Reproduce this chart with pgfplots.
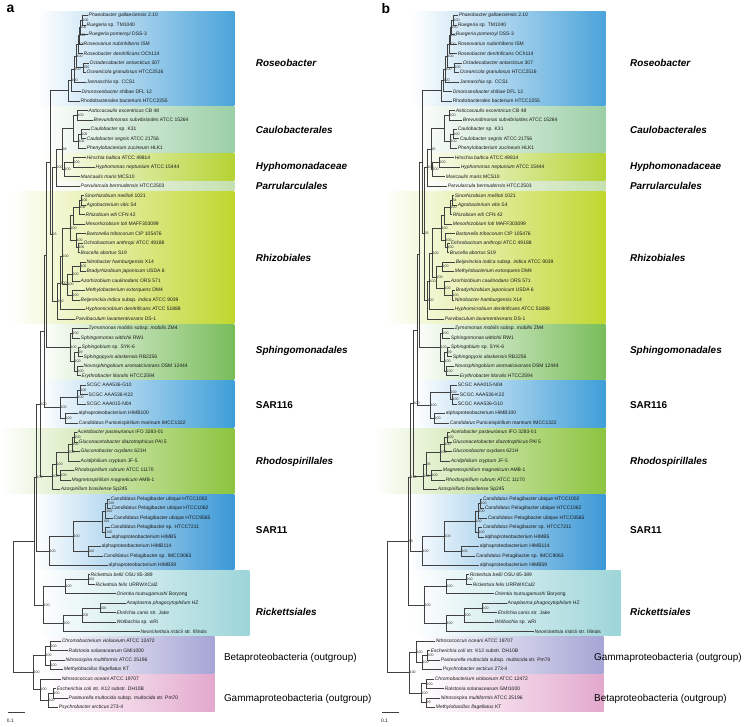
\documentclass[border=0pt]{standalone}
\usepackage{pgfplots}
\pgfplotsset{compat=1.18}
\usepackage{fontspec}
\setmainfont{Liberation Sans}
\definecolor{cRose}{HTML}{4BA4DA}
\definecolor{cCaul}{HTML}{9BCFA6}
\definecolor{cHypho}{HTML}{B5D334}
\definecolor{cParv}{HTML}{C5E0B0}
\definecolor{cRhiz}{HTML}{C0D72E}
\definecolor{cSph}{HTML}{78BD5A}
\definecolor{cSAR}{HTML}{3E9ED8}
\definecolor{cRhodo}{HTML}{8CC43F}
\definecolor{cSAReleven}{HTML}{3B98D6}
\definecolor{cRick}{HTML}{9DD5D9}
\definecolor{cPurp}{HTML}{A6A5D5}
\definecolor{cPink}{HTML}{E3A9CD}
\pgfplotsset{
 tree/.style={draw=black!75, line width=0.55pt, mark=none},
 tips/.style={draw=none, mark=none, nodes near coords, point meta=explicit symbolic,
   nodes near coords style={anchor=west, font=\fontsize{5}{6}\selectfont, inner sep=0.7pt, text=black!90}},
 boot/.style={draw=none, mark=none, nodes near coords, point meta=explicit symbolic,
   nodes near coords style={anchor=west, font=\fontsize{3.6}{4}\selectfont, inner sep=0.5pt, text=black!80}},
 band/.style={draw=none, mark=none, left color=white, right color=#1},
}
\newcommand{\clade}[1]{\fontsize{10}{12}\selectfont\bfseries\itshape #1}
\newcommand{\cladeu}[1]{\fontsize{10}{12}\selectfont\bfseries #1}
\begin{document}
\begin{tikzpicture}
\begin{axis}[at={(0,0)}, anchor=south west, width=745bp, height=728bp, scale only axis, hide axis,
  xmin=0, xmax=745, ymin=-1.5789, ymax=75.0526, y dir=reverse, clip=false, unbounded coords=jump]
\addplot[draw=none, mark=none] coordinates {(0,-1.5789)(745,75.0526)};
% ---------- bands panel a
\addplot[band=cRose] coordinates {(38,-0.45)(235,-0.45)(235,9.45)(38,9.45)};
\addplot[band=cCaul] coordinates {(40,9.55)(235,9.55)(235,14.45)(40,14.45)};
\addplot[band=cHypho] coordinates {(40,14.55)(235,14.55)(235,17.45)(40,17.45)};
\addplot[band=cParv] coordinates {(40,17.55)(235,17.55)(235,18.45)(40,18.45)};
\addplot[band=cRhiz] coordinates {(10,18.55)(235,18.55)(235,32.45)(10,32.45)};
\addplot[band=cSph] coordinates {(40,32.55)(235,32.55)(235,38.45)(40,38.45)};
\addplot[band=cSAR] coordinates {(40,38.55)(235,38.55)(235,43.45)(40,43.45)};
\addplot[band=cRhodo] coordinates {(0,43.55)(235,43.55)(235,50.45)(0,50.45)};
\addplot[band=cSAReleven] coordinates {(35,50.55)(235,50.55)(235,58.45)(35,58.45)};
\addplot[band=cRick] coordinates {(37,58.55)(250,58.55)(250,65.45)(37,65.45)};
\addplot[band=cPurp] coordinates {(45,65.55)(215,65.55)(215,69.45)(45,69.45)};
\addplot[band=cPink] coordinates {(45,69.55)(215,69.55)(215,73.45)(45,73.45)};
% ---------- bands panel b
\addplot[band=cRose] coordinates {(413,-0.45)(607,-0.45)(607,9.45)(413,9.45)};
\addplot[band=cCaul] coordinates {(415,9.55)(607,9.55)(607,14.45)(415,14.45)};
\addplot[band=cHypho] coordinates {(415,14.55)(607,14.55)(607,17.45)(415,17.45)};
\addplot[band=cParv] coordinates {(415,17.55)(607,17.55)(607,18.45)(415,18.45)};
\addplot[band=cRhiz] coordinates {(385,18.55)(607,18.55)(607,32.45)(385,32.45)};
\addplot[band=cSph] coordinates {(415,32.55)(607,32.55)(607,38.45)(415,38.45)};
\addplot[band=cSAR] coordinates {(415,38.55)(607,38.55)(607,43.45)(415,43.45)};
\addplot[band=cRhodo] coordinates {(375,43.55)(607,43.55)(607,50.45)(375,50.45)};
\addplot[band=cSAReleven] coordinates {(410,50.55)(607,50.55)(607,58.45)(410,58.45)};
\addplot[band=cRick] coordinates {(412,58.55)(622,58.55)(622,65.45)(412,65.45)};
\addplot[band=cPurp] coordinates {(420,65.55)(605,65.55)(605,69.45)(420,69.45)};
\addplot[band=cPink] coordinates {(420,69.55)(605,69.55)(605,73.45)(420,73.45)};
% ---------- tree panel a
\addplot[tree] coordinates {
(88,0)(82,0)(82,1)(86,1)(nan,nan)
(82,0.5)(80,0.5)(80,2)(88,2)(nan,nan)
(80,1.25)(79,1.25)(79,3)(83,3)(nan,nan)
(79,2.125)(78,2.125)(78,4)(83,4)(nan,nan)
(89,5)(83,5)(83,6)(86,6)(nan,nan)
(78,3.06)(76,3.06)(76,5.5)(83,5.5)(nan,nan)
(76,4.28)(74,4.28)(74,7)(86,7)(nan,nan)
(74,5.64)(71,5.64)(71,8)(81,8)(nan,nan)
(71,6.82)(68,6.82)(68,9)(80,9)(nan,nan)
(88,10)(77,10)(77,11)(93,11)(nan,nan)
(90,12)(81,12)(81,13)(86,13)(nan,nan)
(81,12.5)(78,12.5)(78,14)(86,14)(nan,nan)
(77,10.5)(73,10.5)(73,13.25)(78,13.25)(nan,nan)
(86,15)(73,15)(73,16)(95,16)(nan,nan)
(73,15.5)(64,15.5)(64,17)(80,17)(nan,nan)
(73,11.875)(62,11.875)(62,16.25)(64,16.25)(nan,nan)
(62,14.06)(56,14.06)(56,18)(80,18)(nan,nan)
(84,19)(81,19)(81,20)(86,20)(nan,nan)
(81,19.5)(79,19.5)(79,21)(85,21)(nan,nan)
(79,20.25)(73,20.25)(73,22)(85,22)(nan,nan)
(83,24)(78,24)(78,25)(80,25)(nan,nan)
(86,23)(76,23)(76,24.5)(78,24.5)(nan,nan)
(73,21.125)(70,21.125)(70,23.75)(76,23.75)(nan,nan)
(86,26)(80,26)(80,27)(86,27)(nan,nan)
(80,26.5)(72,26.5)(72,28)(80,28)(nan,nan)
(85,29)(72,29)(72,30)(80,30)(nan,nan)
(72,27.25)(67,27.25)(67,29.5)(72,29.5)(nan,nan)
(70,22.44)(62,22.44)(62,28.375)(67,28.375)(nan,nan)
(62,25.41)(60,25.41)(60,31)(85,31)(nan,nan)
(60,28.2)(57,28.2)(57,32)(75,32)(nan,nan)
(88,33)(72,33)(72,34)(80,34)(nan,nan)
(81,35)(78,35)(78,36)(83,36)(nan,nan)
(83,37)(77,37)(77,38)(81,38)(nan,nan)
(78,35.5)(74,35.5)(74,37.5)(77,37.5)(nan,nan)
(72,33.5)(70,33.5)(70,36.5)(74,36.5)(nan,nan)
(86,39)(80,39)(80,40)(88,40)(nan,nan)
(80,39.5)(77,39.5)(77,41)(86,41)(nan,nan)
(78,42)(65,42)(65,43)(78,43)(nan,nan)
(77,40.25)(60,40.25)(60,42.5)(65,42.5)(nan,nan)
(77,44)(74,44)(74,45)(78,45)(nan,nan)
(74,44.5)(72,44.5)(72,46)(80,46)(nan,nan)
(72,45.25)(68,45.25)(68,47)(80,47)(nan,nan)
(74,48)(60,48)(60,49)(71,49)(nan,nan)
(68,46.125)(56,46.125)(56,48.5)(60,48.5)(nan,nan)
(56,47.31)(52,47.31)(52,50)(60,50)(nan,nan)
(110,51)(108,51)(108,52)(111,52)(nan,nan)
(108,51.5)(106,51.5)(106,53)(113,53)(nan,nan)
(110,54)(106,54)(106,55)(111,55)(nan,nan)
(106,52.25)(103,52.25)(103,54.5)(106,54.5)(nan,nan)
(101,56)(88,56)(88,57)(103,57)(nan,nan)
(103,53.375)(73,53.375)(73,56.5)(88,56.5)(nan,nan)
(73,54.94)(49,54.94)(49,58)(108,58)(nan,nan)
(90,59)(88,59)(88,60)(95,60)(nan,nan)
(88,59.5)(65,59.5)(65,61)(116,61)(nan,nan)
(126,62)(100,62)(100,63)(116,63)(nan,nan)
(100,62.5)(82,62.5)(82,64)(116,64)(nan,nan)
(82,63.25)(63,63.25)(63,65)(140,65)(nan,nan)
(65,60.25)(43,60.25)(43,64.125)(63,64.125)(nan,nan)
(61,66)(50,66)(50,67)(68,67)(nan,nan)
(65,68)(50,68)(50,69)(63,69)(nan,nan)
(50,66.5)(45,66.5)(45,68.5)(50,68.5)(nan,nan)
(56,71)(53,71)(53,72)(68,72)(nan,nan)
(53,71.5)(48,71.5)(48,73)(58,73)(nan,nan)
(61,70)(40,70)(40,72.25)(48,72.25)(nan,nan)
(45,67.5)(33,67.5)(33,71.125)(40,71.125)(nan,nan)
(56,16.03)(52,16.03)(52,30.1)(57,30.1)(nan,nan)
(68,7.91)(50,7.91)(50,23.07)(52,23.07)(nan,nan)
(50,15.49)(46,15.49)(46,35)(70,35)(nan,nan)
(46,25.25)(44,25.25)(44,41.375)(60,41.375)(nan,nan)
(44,33.31)(40,33.31)(40,48.66)(52,48.66)(nan,nan)
(40,40.99)(36,40.99)(36,56.47)(49,56.47)(nan,nan)
(36,48.73)(34,48.73)(34,62.19)(43,62.19)(nan,nan)
(34,55.46)(13,55.46)(13,69.31)(33,69.31)(nan,nan)
(8,73.47)(25,73.47)
};
% ---------- tree panel b
\addplot[tree] coordinates {
(459,0)(454,0)(454,1)(458,1)(nan,nan)
(454,0.5)(452,0.5)(452,2)(456,2)(nan,nan)
(452,1.25)(451,1.25)(451,3)(458,3)(nan,nan)
(451,2.125)(450,2.125)(450,4)(458,4)(nan,nan)
(463,5)(455,5)(455,6)(460,6)(nan,nan)
(450,3.06)(448,3.06)(448,5.5)(455,5.5)(nan,nan)
(448,4.28)(446,4.28)(446,7)(460,7)(nan,nan)
(446,5.64)(444,5.64)(444,8)(453,8)(nan,nan)
(444,6.82)(442,6.82)(442,9)(453,9)(nan,nan)
(456,10)(450,10)(450,11)(463,11)(nan,nan)
(458,12)(454,12)(454,13)(460,13)(nan,nan)
(454,12.5)(451,12.5)(451,14)(458,14)(nan,nan)
(450,10.5)(445,10.5)(445,13.25)(451,13.25)(nan,nan)
(455,15)(440,15)(440,16)(461,16)(nan,nan)
(440,15.5)(433,15.5)(433,17)(446,17)(nan,nan)
(445,11.875)(432,11.875)(432,16.25)(433,16.25)(nan,nan)
(432,14.06)(428,14.06)(428,18)(448,18)(nan,nan)
(455,19)(453,19)(453,20)(458,20)(nan,nan)
(453,19.5)(451,19.5)(451,21)(453,21)(nan,nan)
(451,20.25)(445,20.25)(445,22)(453,22)(nan,nan)
(451,24)(448,24)(448,25)(450,25)(nan,nan)
(456,23)(446,23)(446,24.5)(448,24.5)(nan,nan)
(445,21.125)(442,21.125)(442,23.75)(446,23.75)(nan,nan)
(456,26)(443,26)(443,27)(455,27)(nan,nan)
(456,29)(453,29)(453,30)(455,30)(nan,nan)
(451,28)(445,28)(445,29.5)(453,29.5)(nan,nan)
(443,26.5)(437,26.5)(437,28.75)(445,28.75)(nan,nan)
(442,22.44)(433,22.44)(433,27.625)(437,27.625)(nan,nan)
(433,25.03)(430,25.03)(430,31)(455,31)(nan,nan)
(430,28.02)(428,28.02)(428,32)(445,32)(nan,nan)
(455,33)(443,33)(443,34)(451,34)(nan,nan)
(451,35)(448,35)(448,36)(453,36)(nan,nan)
(455,37)(447,37)(447,38)(460,38)(nan,nan)
(448,35.5)(445,35.5)(445,37.5)(447,37.5)(nan,nan)
(443,33.5)(441,33.5)(441,36.5)(445,36.5)(nan,nan)
(460,40)(453,40)(453,41)(458,41)(nan,nan)
(458,39)(451,39)(451,40.5)(453,40.5)(nan,nan)
(446,42)(435,42)(435,43)(450,43)(nan,nan)
(451,39.75)(431,39.75)(431,42.5)(435,42.5)(nan,nan)
(451,44)(448,44)(448,45)(453,45)(nan,nan)
(448,44.5)(445,44.5)(445,46)(453,46)(nan,nan)
(445,45.25)(441,45.25)(441,47)(451,47)(nan,nan)
(443,48)(432,48)(432,49)(446,49)(nan,nan)
(441,46.125)(427,46.125)(427,48.5)(432,48.5)(nan,nan)
(427,47.31)(424,47.31)(424,50)(438,50)(nan,nan)
(483,51)(481,51)(481,52)(485,52)(nan,nan)
(481,51.5)(479,51.5)(479,53)(488,53)(nan,nan)
(483,54)(479,54)(479,55)(485,55)(nan,nan)
(479,52.25)(476,52.25)(476,54.5)(479,54.5)(nan,nan)
(480,56)(462,56)(462,57)(476,57)(nan,nan)
(476,53.375)(445,53.375)(445,56.5)(462,56.5)(nan,nan)
(445,54.94)(423,54.94)(423,58)(480,58)(nan,nan)
(470,59)(467,59)(467,60)(473,60)(nan,nan)
(467,59.5)(447,59.5)(447,61)(495,61)(nan,nan)
(508,62)(483,62)(483,63)(498,63)(nan,nan)
(483,62.5)(465,62.5)(465,64)(495,64)(nan,nan)
(465,63.25)(447,63.25)(447,65)(535,65)(nan,nan)
(447,60.25)(425,60.25)(425,64.125)(447,64.125)(nan,nan)
(431,67)(428,67)(428,68)(441,68)(nan,nan)
(428,67.5)(423,67.5)(423,69)(443,69)(nan,nan)
(436,66)(417,66)(417,68.25)(423,68.25)(nan,nan)
(435,70)(427,70)(427,71)(445,71)(nan,nan)
(441,72)(427,72)(427,73)(436,73)(nan,nan)
(427,70.5)(422,70.5)(422,72.5)(427,72.5)(nan,nan)
(417,67.125)(410,67.125)(410,71.5)(422,71.5)(nan,nan)
(428,16.03)(425,16.03)(425,30.01)(428,30.01)(nan,nan)
(442,7.91)(423,7.91)(423,23.02)(425,23.02)(nan,nan)
(423,15.47)(420,15.47)(420,35)(441,35)(nan,nan)
(420,25.24)(418,25.24)(418,41.125)(431,41.125)(nan,nan)
(418,33.18)(414,33.18)(414,48.66)(424,48.66)(nan,nan)
(414,40.92)(411,40.92)(411,56.47)(423,56.47)(nan,nan)
(411,48.70)(409,48.70)(409,62.19)(425,62.19)(nan,nan)
(409,55.45)(388,55.45)(388,69.31)(410,69.31)(nan,nan)
(383,73.47)(400,73.47)
};
% ---------- tip labels panel a
\addplot[tips] coordinates {
(88,0) [\textit{Phaeobacter gallaeciensis} 2.10]
(86,1) [\textit{Ruegeria} sp. TM1040]
(88,2) [\textit{Ruegeria pomeroyi} DSS-3]
(83,3) [\textit{Roseovarius nubinhibens} ISM]
(83,4) [\textit{Roseobacter denitrificans} OCh114]
(89,5) [\textit{Octadecabacter antarcticus} 307]
(86,6) [\textit{Oceanicola granulosus} HTCC2516]
(86,7) [\textit{Jannaschia} sp. CCS1]
(81,8) [\textit{Dinoroseobacter shibae} DFL 12]
(80,9) [Rhodobacterales bacterium HTCC2255]
(88,10) [\textit{Asticcacaulis excentricus} CB 48]
(93,11) [\textit{Brevundimonas subvibrioides} ATCC 15264]
(90,12) [\textit{Caulobacter} sp. K31]
(86,13) [\textit{Caulobacter segnis} ATCC 21756]
(86,14) [\textit{Phenylobacterium zucineum} HLK1]
(86,15) [\textit{Hirschia baltica} ATCC 49814]
(95,16) [\textit{Hyphomonas neptunium} ATCC 15444]
(80,17) [\textit{Maricaulis maris} MCS10]
(80,18) [\textit{Parvularcula bermudensis} HTCC2503]
(84,19) [\textit{Sinorhizobium meliloti} 1021]
(86,20) [\textit{Agrobacterium vitis} S4]
(85,21) [\textit{Rhizobium etli} CFN 42]
(85,22) [\textit{Mesorhizobium loti} MAFF303099]
(86,23) [\textit{Bartonella tribocorum} CIP 105476]
(83,24) [\textit{Ochrobactrum anthropi} ATCC 49188]
(80,25) [\textit{Brucella abortus} S19]
(86,26) [\textit{Nitrobacter hamburgensis} X14]
(86,27) [\textit{Bradyrhizobium japonicum} USDA 6]
(80,28) [\textit{Azorhizobium caulinodans} ORS 571]
(85,29) [\textit{Methylobacterium extorquens} DM4]
(80,30) [\textit{Beijerinckia indica} subsp. \textit{indica} ATCC 9039]
(85,31) [\textit{Hyphomicrobium denitrificans} ATCC 51888]
(75,32) [\textit{Parvibaculum lavamentivorans} DS-1]
(88,33) [\textit{Zymomonas mobilis} subsp. \textit{mobilis} ZM4]
(80,34) [\textit{Sphingomonas wittichii} RW1]
(81,35) [\textit{Sphingobium} sp. SYK-6]
(83,36) [\textit{Sphingopyxis alaskensis} RB2256]
(83,37) [\textit{Novosphingobium aromaticivorans} DSM 12444]
(81,38) [\textit{Erythrobacter litoralis} HTCC2594]
(86,39) [SCGC AAA536-G10]
(88,40) [SCGC AAA536-K22]
(86,41) [SCGC AAA015-N04]
(78,42) [alphaproteobacterium HIMB100]
(78,43) [\textit{Candidatus} Puniceispirillum marinum IMCC1322]
(77,44) [\textit{Acetobacter pasteurianus} IFO 3283-01]
(78,45) [\textit{Gluconacetobacter diazotrophicus} PAl 5]
(80,46) [\textit{Gluconobacter oxydans} 621H]
(80,47) [\textit{Acidiphilium cryptum} JF-5]
(74,48) [\textit{Rhodospirillum rubrum} ATCC 11170]
(71,49) [\textit{Magnetospirillum magneticum} AMB-1]
(60,50) [\textit{Azospirillum brasilense} Sp245]
(110,51) [\textit{Candidatus} Pelagibacter ubique HTCC1002]
(111,52) [\textit{Candidatus} Pelagibacter ubique HTCC1062]
(113,53) [\textit{Candidatus} Pelagibacter ubique HTCC9565]
(110,54) [\textit{Candidatus} Pelagibacter sp. HTCC7211]
(111,55) [alphaproteobacterium HIMB5]
(101,56) [alphaproteobacterium HIMB114]
(103,57) [\textit{Candidatus} Pelagibacter sp. IMCC9063]
(108,58) [alphaproteobacterium HIMB59]
(90,59) [\textit{Rickettsia bellii} OSU 85-389]
(95,60) [\textit{Rickettsia felis} URRWXCal2]
(116,61) [\textit{Orientia tsutsugamushi} Boryong]
(126,62) [\textit{Anaplasma phagocytophilum} HZ]
(116,63) [\textit{Ehrlichia canis} str. Jake]
(116,64) [\textit{Wolbachia} sp. wRi]
(140,65) [\textit{Neorickettsia risticii} str. Illinois]
(61,66) [\textit{Chromobacterium violaceum} ATCC 12472]
(68,67) [\textit{Ralstonia solanacearum} GMI1000]
(65,68) [\textit{Nitrosospira multiformis} ATCC 25196]
(63,69) [\textit{Methylobacillus flagellatus} KT]
(61,70) [\textit{Nitrosococcus oceani} ATCC 19707]
(56,71) [\textit{Escherichia coli} str. K12 substr. DH10B]
(68,72) [\textit{Pasteurella multocida} subsp. \textit{multocida} str. Pm70]
(58,73) [\textit{Psychrobacter arcticus} 273-4]
(6,74.45) [0.1]
};
% ---------- tip labels panel b
\addplot[tips] coordinates {
(459,0) [\textit{Phaeobacter gallaeciensis} 2.10]
(458,1) [\textit{Ruegeria} sp. TM1040]
(456,2) [\textit{Ruegeria pomeroyi} DSS-3]
(458,3) [\textit{Roseovarius nubinhibens} ISM]
(458,4) [\textit{Roseobacter denitrificans} OCh114]
(463,5) [\textit{Octadecabacter antarcticus} 307]
(460,6) [\textit{Oceanicola granulosus} HTCC2516]
(460,7) [\textit{Jannaschia} sp. CCS1]
(453,8) [\textit{Dinoroseobacter shibae} DFL 12]
(453,9) [Rhodobacterales bacterium HTCC2255]
(456,10) [\textit{Asticcacaulis excentricus} CB 48]
(463,11) [\textit{Brevundimonas subvibrioides} ATCC 15264]
(458,12) [\textit{Caulobacter} sp. K31]
(460,13) [\textit{Caulobacter segnis} ATCC 21756]
(458,14) [\textit{Phenylobacterium zucineum} HLK1]
(455,15) [\textit{Hirschia baltica} ATCC 49814]
(461,16) [\textit{Hyphomonas neptunium} ATCC 15444]
(446,17) [\textit{Maricaulis maris} MCS10]
(448,18) [\textit{Parvularcula bermudensis} HTCC2503]
(455,19) [\textit{Sinorhizobium meliloti} 1021]
(458,20) [\textit{Agrobacterium vitis} S4]
(453,21) [\textit{Rhizobium etli} CFN 42]
(453,22) [\textit{Mesorhizobium loti} MAFF303099]
(456,23) [\textit{Bartonella tribocorum} CIP 105476]
(451,24) [\textit{Ochrobactrum anthropi} ATCC 49188]
(450,25) [\textit{Brucella abortus} S19]
(456,26) [\textit{Beijerinckia indica} subsp. \textit{indica} ATCC 9039]
(455,27) [\textit{Methylobacterium extorquens} DM4]
(451,28) [\textit{Azorhizobium caulinodans} ORS 571]
(456,29) [\textit{Bradyrhizobium japonicum} USDA 6]
(455,30) [\textit{Nitrobacter hamburgensis} X14]
(455,31) [\textit{Hyphomicrobium denitrificans} ATCC 51888]
(445,32) [\textit{Parvibaculum lavamentivorans} DS-1]
(455,33) [\textit{Zymomonas mobilis} subsp. \textit{mobilis} ZM4]
(451,34) [\textit{Sphingomonas wittichii} RW1]
(451,35) [\textit{Sphingobium} sp. SYK-6]
(453,36) [\textit{Sphingopyxis alaskensis} RB2256]
(455,37) [\textit{Novosphingobium aromaticivorans} DSM 12444]
(460,38) [\textit{Erythrobacter litoralis} HTCC2594]
(458,39) [SCGC AAA015-N04]
(460,40) [SCGC AAA536-K22]
(458,41) [SCGC AAA536-G10]
(446,42) [alphaproteobacterium HIMB100]
(450,43) [\textit{Candidatus} Puniceispirillum marinum IMCC1322]
(451,44) [\textit{Acetobacter pasteurianus} IFO 3283-01]
(453,45) [\textit{Gluconacetobacter diazotrophicus} PAl 5]
(453,46) [\textit{Gluconobacter oxydans} 621H]
(451,47) [\textit{Acidiphilium cryptum} JF-5]
(443,48) [\textit{Magnetospirillum magneticum} AMB-1]
(446,49) [\textit{Rhodospirillum rubrum} ATCC 11170]
(438,50) [\textit{Azospirillum brasilense} Sp245]
(483,51) [\textit{Candidatus} Pelagibacter ubique HTCC1002]
(485,52) [\textit{Candidatus} Pelagibacter ubique HTCC1062]
(488,53) [\textit{Candidatus} Pelagibacter ubique HTCC9565]
(483,54) [\textit{Candidatus} Pelagibacter sp. HTCC7211]
(485,55) [alphaproteobacterium HIMB5]
(480,56) [alphaproteobacterium HIMB114]
(476,57) [\textit{Candidatus} Pelagibacter sp. IMCC9063]
(480,58) [alphaproteobacterium HIMB59]
(470,59) [\textit{Rickettsia bellii} OSU 85-389]
(473,60) [\textit{Rickettsia felis} URRWXCal2]
(495,61) [\textit{Orientia tsutsugamushi} Boryong]
(508,62) [\textit{Anaplasma phagocytophilum} HZ]
(498,63) [\textit{Ehrlichia canis} str. Jake]
(495,64) [\textit{Wolbachia} sp. wRi]
(535,65) [\textit{Neorickettsia risticii} str. Illinois]
(436,66) [\textit{Nitrosococcus oceani} ATCC 19707]
(431,67) [\textit{Escherichia coli} str. K12 substr. DH10B]
(441,68) [\textit{Pasteurella multocida} subsp. \textit{multocida} str. Pm70]
(443,69) [\textit{Psychrobacter arcticus} 273-4]
(435,70) [\textit{Chromobacterium violaceum} ATCC 12472]
(445,71) [\textit{Ralstonia solanacearum} GMI1000]
(441,72) [\textit{Nitrosospira multiformis} ATCC 25196]
(436,73) [\textit{Methylobacillus flagellatus} KT]
(381,74.45) [0.1]
};
% ---------- bootstrap panel a
\addplot[boot] coordinates {
(82,0.5)[100] (80,1.25)[100] (79,2.125)[100] (78,3.06)[100] (83,5.5)[100] (76,4.28)[100] (74,5.64)[100] (71,6.82)[100]
(77,10.5)[100] (81,12.5)[100] (78,13.25)[100] (62,14.06)[98] (73,15.5)[100] (64,16.25)[100] (56,16.03)[100]
(81,19.5)[100] (79,20.25)[100] (78,24.5)[100] (76,23.75)[100] (70,22.44)[100] (80,26.5)[100] (72,27.25)[100]
(72,29.5)[100] (67,28.375)[100] (62,25.41)[100] (60,28.2)[100] (57,30.1)[100] (52,23.07)[93]
(72,33.5)[100] (78,35.5)[99] (77,37.5)[100] (74,36.5)[100] (70,35)[100]
(80,39.5)[100] (77,40.25)[100] (65,42.5)[100] (60,41.375)[100]
(74,44.5)[100] (72,45.25)[100] (68,46.125)[100] (60,48.5)[100] (56,47.31)[100] (52,48.66)[100]
(108,51.5)[100] (106,52.25)[100] (106,54.5)[100] (103,53.375)[100] (88,56.5)[100] (73,54.94)[100] (49,56.47)[100]
(88,59.5)[100] (65,60.25)[100] (100,62.5)[100] (82,63.25)[100] (63,64.125)[100] (43,62.19)[100]
(50,66.5)[100] (50,68.5)[100] (45,67.5)[100] (53,71.5)[100] (48,72.25)[100] (40,71.125)[100] (33,69.31)[100]
(40,40.99)[100] (36,48.73)[100]
};
% ---------- bootstrap panel b
\addplot[boot] coordinates {
(454,0.5)[100] (452,1.25)[100] (451,2.125)[100] (450,3.06)[100] (455,5.5)[100] (448,4.28)[100] (446,5.64)[100] (444,6.82)[100]
(450,10.5)[100] (454,12.5)[100] (451,13.25)[100] (432,14.06)[95] (440,15.5)[100] (433,16.25)[100] (428,16.03)[100]
(453,19.5)[64] (451,20.25)[100] (448,24.5)[100] (446,23.75)[100] (442,22.44)[100] (443,26.5)[100] (453,29.5)[100]
(445,28.75)[100] (437,27.625)[100] (433,25.03)[100] (430,28.02)[100] (428,30.01)[100] (425,23.02)[93]
(443,33.5)[100] (448,35.5)[99] (447,37.5)[100] (445,36.5)[100] (441,35)[100]
(453,40.5)[100] (451,39.75)[100] (435,42.5)[100] (431,41.125)[100]
(448,44.5)[100] (445,45.25)[100] (441,46.125)[100] (432,48.5)[100] (427,47.31)[96] (424,48.66)[100]
(481,51.5)[100] (479,52.25)[100] (479,54.5)[100] (476,53.375)[100] (462,56.5)[100] (445,54.94)[100] (423,56.47)[100]
(467,59.5)[100] (447,60.25)[100] (483,62.5)[100] (465,63.25)[100] (447,64.125)[100] (425,62.19)[100]
(428,67.5)[100] (423,68.25)[100] (417,67.125)[100] (427,70.5)[100] (427,72.5)[99] (422,71.5)[100] (410,69.31)[100]
(414,40.92)[100] (411,48.70)[100] (409,55.45)[99]
};
% ---------- panel letters and clade names
\node[anchor=west, font=\fontsize{14}{14}\selectfont\bfseries] at (axis cs:3,-0.75) {a};
\node[anchor=west, font=\fontsize{14}{14}\selectfont\bfseries] at (axis cs:379,-0.75) {b};
\node[anchor=west] at (axis cs:253,4.95) {\clade{Roseobacter}};
\node[anchor=west] at (axis cs:253,12.1) {\clade{Caulobacterales}};
\node[anchor=west] at (axis cs:253,16) {\clade{Hyphomonadaceae}};
\node[anchor=west] at (axis cs:253,18) {\clade{Parrularculales}};
\node[anchor=west] at (axis cs:253,25.6) {\clade{Rhizobiales}};
\node[anchor=west] at (axis cs:253,35.4) {\clade{Sphingomonadales}};
\node[anchor=west] at (axis cs:253,41.05) {\cladeu{SAR116}};
\node[anchor=west] at (axis cs:253,47.05) {\clade{Rhodospirillales}};
\node[anchor=west] at (axis cs:253,54.3) {\cladeu{SAR11}};
\node[anchor=west] at (axis cs:253,62.9) {\clade{Rickettsiales}};
\node[anchor=west, font=\fontsize{10}{12}\selectfont] at (axis cs:221,67.8) {Betaproteobacteria (outgroup)};
\node[anchor=west, font=\fontsize{10}{12}\selectfont] at (axis cs:221,72.1) {Gammaproteobacteria (outgroup)};
\node[anchor=west] at (axis cs:628,4.95) {\clade{Roseobacter}};
\node[anchor=west] at (axis cs:628,12.1) {\clade{Caulobacterales}};
\node[anchor=west] at (axis cs:628,16) {\clade{Hyphomonadaceae}};
\node[anchor=west] at (axis cs:628,18) {\clade{Parrularculales}};
\node[anchor=west] at (axis cs:628,25.6) {\clade{Rhizobiales}};
\node[anchor=west] at (axis cs:628,35.4) {\clade{Sphingomonadales}};
\node[anchor=west] at (axis cs:628,41.05) {\cladeu{SAR116}};
\node[anchor=west] at (axis cs:628,47.05) {\clade{Rhodospirillales}};
\node[anchor=west] at (axis cs:628,54.3) {\cladeu{SAR11}};
\node[anchor=west] at (axis cs:628,62.9) {\clade{Rickettsiales}};
\node[anchor=west, font=\fontsize{10}{12}\selectfont] at (axis cs:592,67.8) {Gammaproteobacteria (outgroup)};
\node[anchor=west, font=\fontsize{10}{12}\selectfont] at (axis cs:592,72.1) {Betaproteobacteria (outgroup)};
\end{axis}
\end{tikzpicture}
\end{document}
